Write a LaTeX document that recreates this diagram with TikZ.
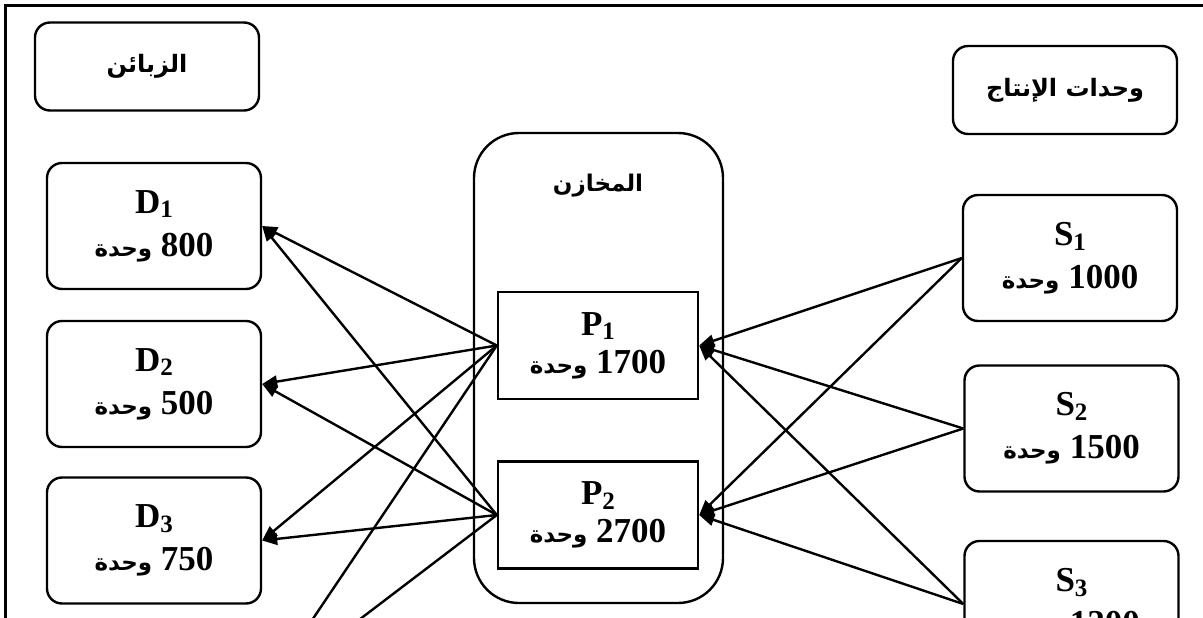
\documentclass[tikz,border=0pt]{standalone}
\usepackage{fontspec}
\setmainfont{Liberation Serif}
\newfontfamily\arabicfont[Script=Arabic]{DejaVu Sans}
\TeXXeTstate=1
\usetikzlibrary{arrows.meta}

% subscript index in the node labels
\newcommand\subidx[1]{\raisebox{-0.30ex}{\fontsize{25}{25}\selectfont #1}}
% "<n> units" line, written right to left
\newcommand\unitline[1]{\beginR\beginL#1\endL\ {\arabicfont\fontsize{23}{23}\selectfont وحدة}\endR}
% bold Arabic heading
\newcommand\arhead[1]{{\arabicfont\beginR #1\endR}}

\tikzset{
  every node/.style={font=\bfseries},
  unitbox/.style={draw, line width=2.4pt, rounded corners=15pt,
    minimum width=214pt, minimum height=126pt, inner sep=0pt,
    align=center, font=\bfseries\fontsize{35}{43}\selectfont},
  headbox/.style={draw, line width=2.4pt, rounded corners=15pt,
    minimum width=224pt, minimum height=88pt, inner sep=0pt,
    font=\bfseries\fontsize{24}{30}\selectfont},
  depotbox/.style={draw, line width=2.4pt, minimum width=200pt,
    minimum height=107pt, inner sep=0pt, align=center,
    font=\bfseries\fontsize{35}{38}\selectfont},
  storebox/.style={draw, line width=2.4pt, rounded corners=45pt,
    minimum width=249pt, minimum height=470pt, inner sep=0pt},
  flow/.style={line width=2.4pt, -{Triangle[length=15pt,width=12pt]}},
}

\begin{document}
\begin{tikzpicture}[x=1pt, y=-1pt]
  \useasboundingbox (0,0) rectangle (1203,618);
  \clip (0,0) rectangle (1203,618);

  % outer frame
  \draw[line width=3pt] (5,6) rectangle (1260,720);

  % customers
  \node[headbox] (cust) at (147,66.5) {\arhead{الزبائن}};
  \node[unitbox] (D1) at (154,226) {D\subidx{1}\\\unitline{800}};
  \node[unitbox] (D2) at (154,384) {D\subidx{2}\\\unitline{500}};
  \node[unitbox] (D3) at (154,540.5) {D\subidx{3}\\\unitline{750}};
  \coordinate (D4) at (263,693);

  % warehouses
  \node[storebox] (store) at (598.5,368) {};
  \node[font=\bfseries\fontsize{23}{30}\selectfont] (storetitle) at (598,186) {\arhead{المخازن}};
  \node[depotbox] (P1) at (598,345.5) {P\subidx{1}\\\unitline{1700}};
  \node[depotbox] (P2) at (598,515) {P\subidx{2}\\\unitline{2700}};

  % production units
  \node[headbox] (prod) at (1065,90) {\arhead{وحدات الإنتاج}};
  \node[unitbox] (S1) at (1070,258) {S\subidx{1}\\\unitline{1000}};
  \node[unitbox] (S2) at (1071.5,428.5) {S\subidx{2}\\\unitline{1500}};
  \node[unitbox] (S3) at (1071.5,604) {S\subidx{3}\\\unitline{1200}};

  % production units -> warehouses
  \foreach \s in {S1,S2,S3} {
    \draw[flow] (\s.west) -- (P1.east);
    \draw[flow] (\s.west) -- (P2.east);
  }
  % warehouses -> customers
  \foreach \p in {P1,P2} {
    \foreach \d in {D1,D2,D3} {
      \draw[flow] (\p.west) -- (\d.east);
    }
    \draw[flow] (\p.west) -- (D4);
  }
\end{tikzpicture}
\end{document}
